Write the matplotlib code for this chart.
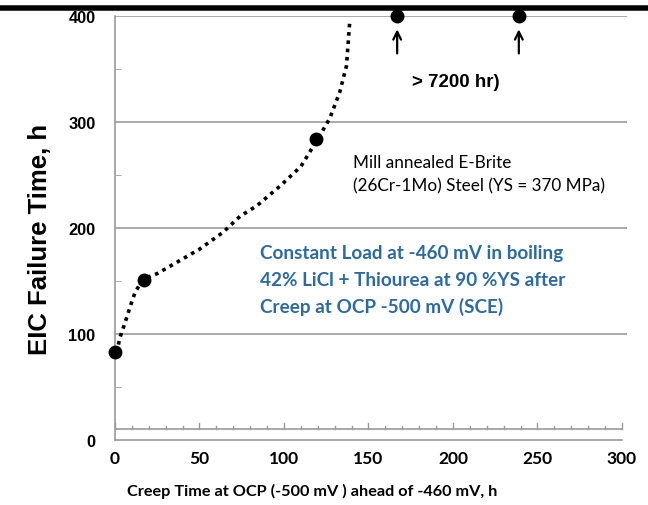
import matplotlib
matplotlib.use("Agg")
import matplotlib.pyplot as plt
from matplotlib.lines import Line2D
import numpy as np

# measured points (creep time h, EIC failure time h)
creep_time = [0, 17, 119]
failure_time = [83, 151, 284]
# specimens that did not fail (> 7200 hr), plotted at the top of the axis
runout_time = [167, 239]
runout_level = [400, 400]

# dotted trend curve
trend_x = [2, 3, 6, 9, 12, 17, 25, 37, 50, 64, 74, 84, 98, 110, 120, 127, 133, 137, 139]
trend_y = [90, 97, 111, 126, 140, 152, 157, 168, 180, 196, 211, 221, 240, 258, 284, 303, 328, 353, 396]

x_ticks = [0, 50, 100, 150, 200, 250, 300]
y_ticks = [0, 100, 200, 300, 400]

grey = "#9a9a9a"
blue = "#2c6a9f"

fig = plt.figure(figsize=(6.48, 5.06), dpi=100)
ax = fig.add_axes([0.1775, 0.1285, 0.790, 0.838])
ax.set_xlim(0, 303)
ax.set_ylim(0, 400)

# grid and axes lines
for yv in y_ticks[1:]:
    ax.axhline(yv, color=grey, lw=1.2, zorder=1)
for s in ["top", "right"]:
    ax.spines[s].set_visible(False)
ax.spines["left"].set_color(grey)
ax.spines["bottom"].set_color(grey)
ax.spines["left"].set_linewidth(1.2)
ax.spines["bottom"].set_linewidth(1.2)
ax.spines["bottom"].set_bounds(0, 300)

# the tick line that sits just above zero
ax.plot([0, 300], [10, 10], color=grey, lw=1.2, zorder=1)
for xv in np.arange(0, 301, 10):
    h = 6 if xv % 50 == 0 else 3.5
    ax.plot([xv, xv], [10, 10 + h], color=grey, lw=1.0, zorder=1)

ax.set_xticks(x_ticks)
ax.set_yticks(y_ticks)
ax.set_yticks([50, 150, 250, 350], minor=True)
ax.tick_params(axis="x", length=0, pad=7)
ax.tick_params(axis="y", which="major", length=0, pad=14)
ax.tick_params(axis="y", which="minor", direction="in", length=4, color=grey)
for lab in ax.get_xticklabels():
    lab.set_fontfamily("Lato")
    lab.set_fontweight("bold")
    lab.set_fontsize(12.5)
for lab in ax.get_yticklabels():
    lab.set_fontfamily("Liberation Sans")
    lab.set_fontweight("bold")
    lab.set_fontsize(11.8)

# data
ax.plot(trend_x, trend_y, color="black", lw=2.6, linestyle=(0, (1, 1.3)), zorder=3)
ax.plot(creep_time, failure_time, "o", color="black", ms=9, zorder=4, clip_on=False)
ax.plot(runout_time, runout_level, "o", color="black", ms=9, zorder=4, clip_on=False)
for xv in runout_time:
    ax.annotate("", xy=(xv, 390), xytext=(xv, 362),
                arrowprops=dict(arrowstyle="->", color="black", lw=1.6,
                                mutation_scale=14))

# annotations
ax.text(176, 338, "> 7200 hr)", fontsize=13.5, fontweight="bold",
        family="Liberation Sans", va="center", ha="left")
ax.text(141, 251, "Mill annealed E-Brite\n(26Cr-1Mo) Steel (YS = 370 MPa)",
        fontsize=12.3, family="Lato", va="center", ha="left", linespacing=1.6)
ax.text(86, 151, "Constant Load at -460 mV in boiling\n"
        "42% LiCl + Thiourea at 90 %YS after\nCreep at OCP -500 mV (SCE)",
        fontsize=13.6, family="Lato", fontweight="bold", color=blue,
        va="center", ha="left", linespacing=1.65)

ax.set_ylabel("EIC Failure Time, h", fontsize=18.5, fontweight="bold",
              family="Liberation Sans", va="center")
ax.yaxis.set_label_coords(-0.146, 0.475)
ax.set_xlabel("Creep Time at OCP (-500 mV ) ahead of -460 mV, h",
              fontsize=11.7, fontweight="bold", family="Lato", va="center")
ax.xaxis.set_label_coords(0.385, -0.12)

# black rule across the top of the figure
fig.add_artist(Line2D([0, 1], [0.983, 0.983], lw=4, color="black",
                      transform=fig.transFigure))

fig.savefig("out.png", dpi=100)
